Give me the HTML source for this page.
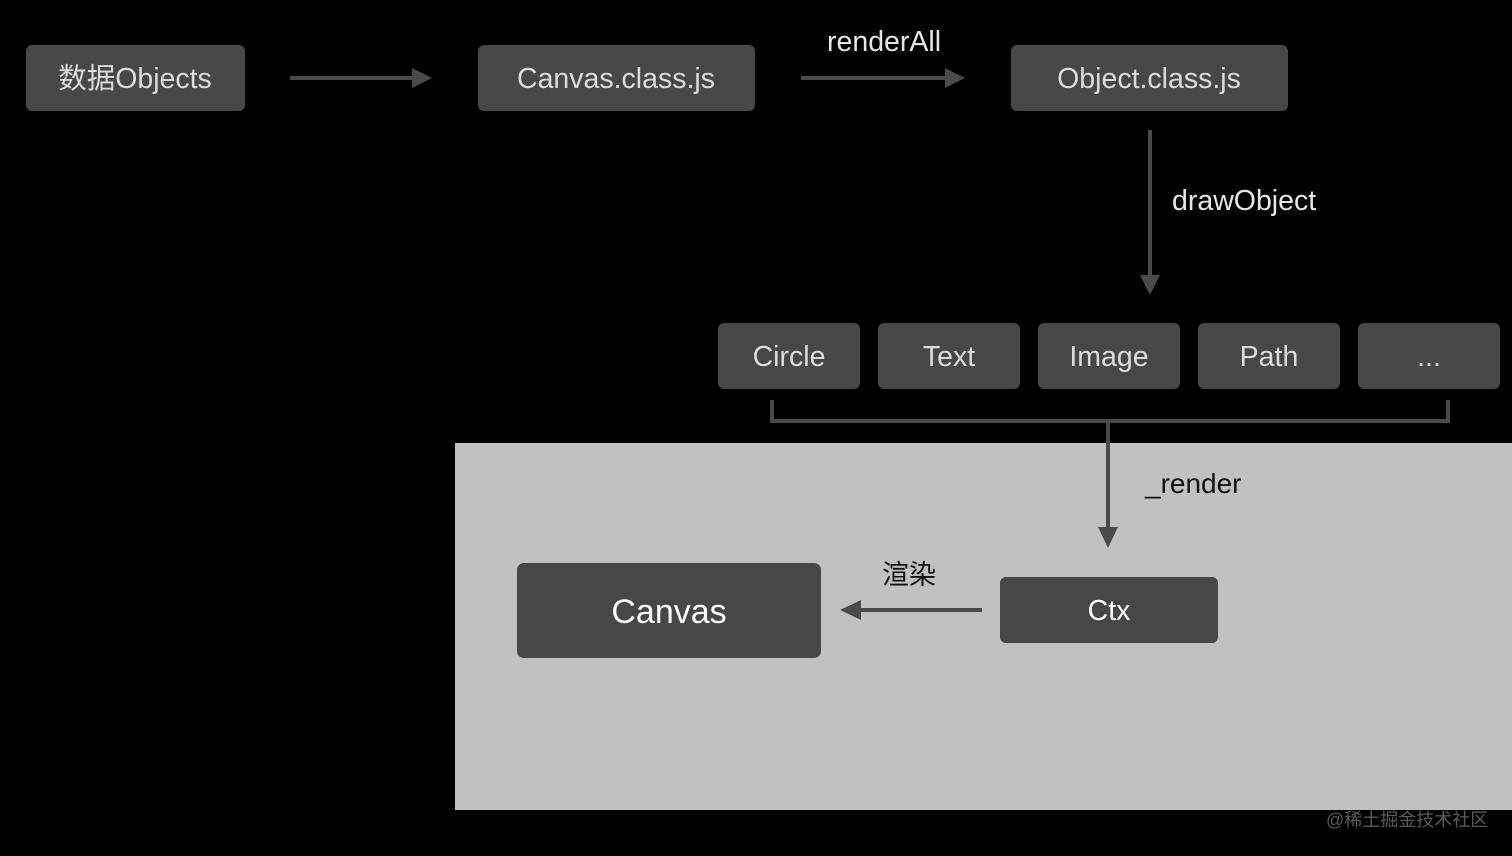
<!DOCTYPE html>
<html><head><meta charset="utf-8"><style>
html,body{margin:0;padding:0;background:#000;width:1512px;height:856px;overflow:hidden}
svg text{font-family:"Liberation Sans","Noto Sans CJK SC",sans-serif}
</style></head><body>
<svg width="1512" height="856" viewBox="0 0 1512 856" xmlns="http://www.w3.org/2000/svg">
<rect x="0" y="0" width="1512" height="856" fill="#000"/>
<rect x="455" y="443" width="1057" height="367" fill="#c1c1c1"/>
<g fill="#474747">
<rect x="26" y="45" width="219" height="66" rx="6"/>
<rect x="478" y="45" width="277" height="66" rx="6"/>
<rect x="1011" y="45" width="277" height="66" rx="6"/>
<rect x="718" y="323" width="142" height="66" rx="6"/>
<rect x="878" y="323" width="142" height="66" rx="6"/>
<rect x="1038" y="323" width="142" height="66" rx="6"/>
<rect x="1198" y="323" width="142" height="66" rx="6"/>
<rect x="1358" y="323" width="142" height="66" rx="6"/>
<rect x="517" y="563" width="304" height="95" rx="7"/>
<rect x="1000" y="577" width="218" height="66" rx="6"/>
</g>
<g stroke="#4a4a4a" stroke-width="4" fill="none">
<line x1="290" y1="78" x2="414" y2="78"/>
<line x1="801" y1="78" x2="948" y2="78"/>
<line x1="1150" y1="130" x2="1150" y2="277"/>
<polyline points="772,400 772,421 1448,421 1448,400"/>
<line x1="1108" y1="421" x2="1108" y2="530"/>
<line x1="982" y1="610" x2="858" y2="610"/>
</g>
<g fill="#4a4a4a">
<polygon points="412,68 432,78 412,88"/>
<polygon points="945,68 965,78 945,88"/>
<polygon points="1140,275 1150,295 1160,275"/>
<polygon points="1098,527 1108,548 1118,527"/>
<polygon points="861,600 840,610 861,620"/>
</g>
<g fill="#dcdcdc" font-size="28.5" text-anchor="middle">
<text x="135" y="88">数据Objects</text>
<text x="616" y="88">Canvas.class.js</text>
<text x="1149" y="88">Object.class.js</text>
<text x="789" y="366">Circle</text>
<text x="949" y="366">Text</text>
<text x="1109" y="366">Image</text>
<text x="1269" y="366">Path</text>
<text x="1429" y="366">...</text>
<text x="669" y="623" font-size="34" fill="#fff">Canvas</text>
<text x="1109" y="620" fill="#fff">Ctx</text>
</g>
<g fill="#e6e6e6" font-size="28.5">
<text x="827" y="51">renderAll</text>
<text x="1172" y="210">drawObject</text>
</g>
<g fill="#111" font-size="28">
<text x="1145" y="493">_render</text>
<text x="882" y="584" font-size="27">渲染</text>
</g>
<text x="1326" y="826" fill="#5a5a5a" font-size="18">@稀土掘金技术社区</text>
</svg>
</body></html>
